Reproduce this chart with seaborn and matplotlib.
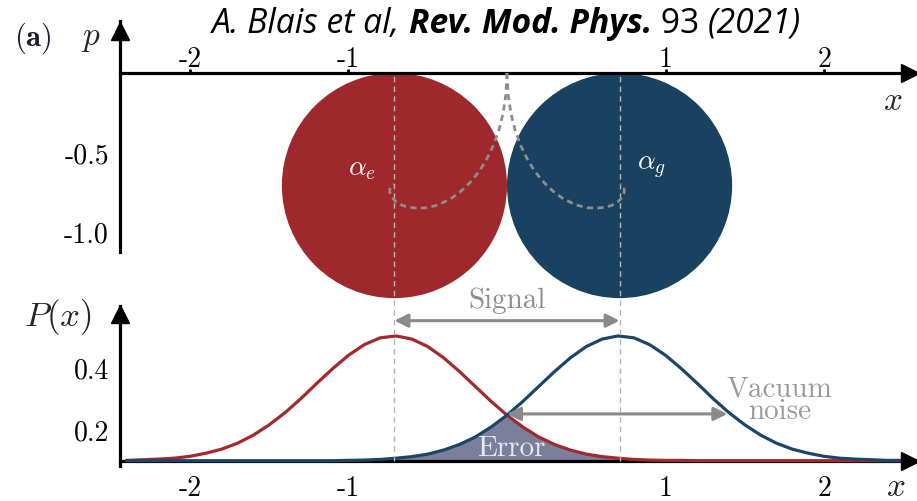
import numpy as np
import matplotlib
matplotlib.use("Agg")
import matplotlib.pyplot as plt
import seaborn as sns
from matplotlib.patches import Circle
from matplotlib.transforms import blended_transform_factory

sns.set_style("white")
plt.rcParams["mathtext.fontset"] = "cm"
plt.rcParams["axes.unicode_minus"] = False
plt.rcParams["font.family"] = ["DejaVu Sans"]

# ---------------- data ----------------
x_ticks_top = [-2, -1, 1, 2]
x_labels_top = ["-2", "-1", "1", "2"]
x_ticks_bot = [-2, -1, 0, 1, 2]
x_labels_bot = ["-2", "-1", "", "1", "2"]
p_ticks = [-0.5, -1.0]
p_labels = ["-0.5", "-1.0"]
P_ticks = [0.1, 0.2, 0.3, 0.4, 0.5]
P_labels = ["", "0.2", "", "0.4", ""]

state_names = [r"$\alpha_e$", r"$\alpha_g$"]
state_x = [-0.71, 0.71]
state_p = [-0.71, -0.71]
state_radius = [0.71, 0.71]
state_colors = ["#9e282b", "#18425f"]
curve_colors = ["#a2292e", "#1b4668"]
error_color = "#7b7f9b"

x_grid = [-2.4, -2.3, -2.2, -2.1, -2.0, -1.9, -1.8, -1.7, -1.6, -1.5, -1.4, -1.3,
          -1.2, -1.1, -1.0, -0.9, -0.8, -0.7, -0.6, -0.5, -0.4, -0.3, -0.2, -0.1,
          0.0, 0.1, 0.2, 0.3, 0.4, 0.5, 0.6, 0.7, 0.8, 0.9, 1.0, 1.1, 1.2, 1.3,
          1.4, 1.5, 1.6, 1.7, 1.8, 1.9, 2.0, 2.1, 2.2, 2.3, 2.4, 2.5, 2.6]
P_e = [0.101, 0.103, 0.105, 0.108, 0.114, 0.124, 0.137, 0.156, 0.182, 0.215, 0.254,
       0.299, 0.348, 0.395, 0.438, 0.472, 0.494, 0.500, 0.490, 0.466, 0.430, 0.386,
       0.338, 0.290, 0.246, 0.208, 0.176, 0.152, 0.134, 0.121, 0.113, 0.108, 0.104,
       0.102, 0.101, 0.101, 0.100, 0.100, 0.100, 0.100, 0.100, 0.100, 0.100, 0.100,
       0.100, 0.100, 0.100, 0.100, 0.100, 0.100, 0.100]
P_g = [0.100, 0.100, 0.100, 0.100, 0.100, 0.100, 0.100, 0.100, 0.100, 0.100, 0.100,
       0.100, 0.100, 0.100, 0.101, 0.102, 0.104, 0.108, 0.113, 0.121, 0.134, 0.152,
       0.176, 0.208, 0.246, 0.290, 0.338, 0.386, 0.430, 0.466, 0.490, 0.500, 0.494,
       0.472, 0.438, 0.395, 0.348, 0.299, 0.254, 0.215, 0.182, 0.156, 0.137, 0.124,
       0.114, 0.108, 0.105, 0.103, 0.101, 0.101, 0.100]
P_floor = 0.1

path_g_x = [0.0, 0.007, 0.025, 0.052, 0.086, 0.126, 0.168, 0.213, 0.259, 0.304, 0.349,
            0.433, 0.508, 0.571, 0.622, 0.663, 0.704, 0.728, 0.740, 0.738, 0.728, 0.713]
path_g_p = [0.0, -0.135, -0.256, -0.363, -0.457, -0.539, -0.609, -0.668, -0.717, -0.757,
            -0.789, -0.832, -0.850, -0.852, -0.846, -0.834, -0.809, -0.781, -0.750,
            -0.723, -0.709, -0.704]
path_e_x = [-0.0, -0.007, -0.025, -0.052, -0.086, -0.126, -0.168, -0.213, -0.259, -0.304,
            -0.349, -0.433, -0.508, -0.571, -0.622, -0.663, -0.704, -0.728, -0.740,
            -0.738, -0.728, -0.713]
path_e_p = path_g_p

signal_P = 0.549
noise_x = [0.0, 1.39]
noise_P = 0.25

# ---------------- figure ----------------
W, H = 917, 502
fig = plt.figure(figsize=(W / 100, H / 100), dpi=100)
XLIM = (-2.441, 2.586)
ax_bot = fig.add_axes([120 / W, 1 - 467 / H, 797 / W, 160 / H])
ax_top = fig.add_axes([120 / W, 1 - 253 / H, 797 / W, 231 / H])
for ax in (ax_top, ax_bot):
    ax.patch.set_alpha(0)
    ax.set_xlim(*XLIM)

ax_top.set_ylim(-1.129, 0.328)
ax_bot.set_ylim(0.083, 0.596)

tick_font = "cmr10"
LW_AX = 2.3

# ---- top axes (phase space) ----
for s in ["bottom", "right"]:
    ax_top.spines[s].set_visible(False)
ax_top.spines["top"].set_position(("data", 0))
ax_top.spines["top"].set_linewidth(LW_AX)
ax_top.spines["left"].set_linewidth(LW_AX)
ax_top.spines["top"].set_color("k")
ax_top.spines["left"].set_color("k")
ax_top.xaxis.set_ticks_position("top")
ax_top.set_xticks(x_ticks_top)
ax_top.set_xticklabels(x_labels_top, family=tick_font, fontsize=20)
ax_top.set_yticks(p_ticks)
ax_top.set_yticklabels(p_labels, family=tick_font, fontsize=20)
ax_top.tick_params(axis="x", direction="out", length=3, width=2, pad=-2, colors="k")
ax_top.tick_params(axis="y", direction="out", length=5, width=2, pad=3, colors="k")
ax_top.plot(0.991, 0, marker=">", color="k", ms=13, transform=ax_top.get_yaxis_transform(), clip_on=False, zorder=5)
ax_top.plot(0, 1 - 10 / 231, marker="^", color="k", ms=13, transform=ax_top.transAxes, clip_on=False, zorder=5)

for cx, cp, r, c in zip(state_x, state_p, state_radius, state_colors):
    ax_top.add_patch(Circle((cx, cp), r, color=c, lw=0, clip_on=False, zorder=1))
for name, lx, lp in zip(state_names, [-0.915, 0.913], [-0.593, -0.586]):
    ax_top.text(lx, lp, name, color="white", fontsize=20, ha="center", va="center", zorder=4)

ax_top.plot(path_e_x, path_e_p, ls=(0, (2.2, 1.6)), color="#8d8d8d", lw=2.0, zorder=3, clip_on=False)
ax_top.plot(path_g_x, path_g_p, ls=(0, (2.2, 1.6)), color="#8d8d8d", lw=2.0, zorder=3, clip_on=False)

# vertical dashed guides
bt = blended_transform_factory(ax_top.transData, fig.transFigure)
for cx in state_x:
    ax_top.plot([cx, cx], [1 - 462 / H, 1 - 75 / H], transform=bt, ls=(0, (4, 3)),
                color="#b5b5b5", lw=1.0, clip_on=False, zorder=2.6)

# ---- bottom axes (distributions) ----
for s in ["top", "right"]:
    ax_bot.spines[s].set_visible(False)
ax_bot.spines["bottom"].set_position(("data", P_floor))
for s in ["bottom", "left"]:
    ax_bot.spines[s].set_linewidth(LW_AX)
    ax_bot.spines[s].set_color("k")
ax_bot.set_xticks(x_ticks_bot)
ax_bot.set_xticklabels(x_labels_bot, family=tick_font, fontsize=20)
ax_bot.set_yticks(P_ticks)
ax_bot.set_yticklabels(P_labels, family=tick_font, fontsize=20)
ax_bot.tick_params(axis="x", direction="out", length=4, width=2, pad=6, colors="k")
ax_bot.tick_params(axis="y", direction="out", length=5, width=2, pad=3, colors="k")
ax_bot.plot(0.991, P_floor, marker=">", color="k", ms=13, transform=ax_bot.get_yaxis_transform(), clip_on=False, zorder=5)
ax_bot.plot(0, 1 - 8 / 160, marker="^", color="k", ms=13, transform=ax_bot.transAxes, clip_on=False, zorder=5)

overlap = np.minimum(np.array(P_e), np.array(P_g))
ax_bot.fill_between(x_grid, P_floor, overlap, color=error_color, lw=0, zorder=1)
sns.lineplot(x=x_grid, y=P_e, color=curve_colors[0], lw=2.3, ax=ax_bot, zorder=3)
sns.lineplot(x=x_grid, y=P_g, color=curve_colors[1], lw=2.3, ax=ax_bot, zorder=3)

arrow_kw = dict(arrowstyle="<|-|>", color="#8a8a8a", lw=2.2, mutation_scale=20, shrinkA=0, shrinkB=0)
ax_bot.annotate("", xy=(state_x[1], signal_P), xytext=(state_x[0], signal_P),
                arrowprops=arrow_kw, annotation_clip=False, zorder=4)
ax_bot.annotate("", xy=(noise_x[1], noise_P), xytext=(noise_x[0], noise_P),
                arrowprops=arrow_kw, annotation_clip=False, zorder=4)

ax_bot.text(0.0, 0.615, "Signal", family=tick_font, fontsize=21, color="#8f8f8f", ha="center", va="center")
ax_bot.text(1.72, 0.296, "Vacuum\nnoise", family=tick_font, fontsize=21, color="#9a9a9a",
            ha="center", va="center", multialignment="center", linespacing=0.78)
ax_bot.text(0.03, 0.141, "Error", family=tick_font, fontsize=21, color="#e8e8f0", ha="center", va="center", zorder=5)

# ---- axis labels ----
fig.text(91 / W, 1 - 38 / H, r"$p$", fontsize=24, ha="center", va="center")
fig.text(893 / W, 1 - 100 / H, r"$x$", fontsize=24, ha="center", va="center")
fig.text(896 / W, 1 - 487 / H, r"$x$", fontsize=24, ha="center", va="center")
fig.text(58 / W, 1 - 317 / H, r"$P(x)$", fontsize=25, ha="center", va="center")
fig.text(33 / W, 1 - 38 / H, r"$\mathbf{(a)}$", fontsize=22, color="#1c1c2c", ha="center", va="center")

# ---- title ----
renderer = fig.canvas.get_renderer()
pieces = [("A. Blais et al, ", "italic", "normal"),
          ("Rev. Mod. Phys.", "italic", "bold"),
          (" 93 ", "normal", "normal"),
          ("(2021)", "italic", "normal")]
x0 = 212 / W
yb = 1 - 33 / H
for txt, style, weight in pieces:
    t = fig.text(x0, yb, txt, family="Open Sans", fontstyle=style, fontweight=weight,
                 fontsize=24.2, va="baseline", ha="left", color="black")
    bb = t.get_window_extent(renderer)
    x0 = bb.x1 / fig.bbox.width

fig.savefig("out.png", dpi=100)
